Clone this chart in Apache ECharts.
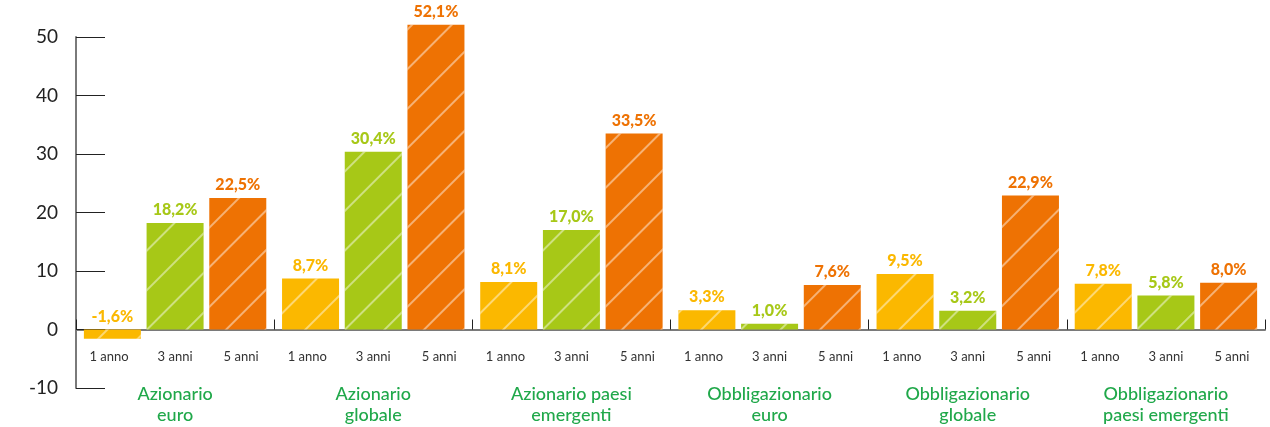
<!DOCTYPE html>
<html>
<head>
<meta charset="utf-8">
<script src="https://cdn.jsdelivr.net/npm/echarts@6/dist/echarts.min.js"></script>
<style>
  html, body { margin: 0; padding: 0; background: #fff; }
  #chart { width: 1270px; height: 427px; }
</style>
</head>
<body>
<div id="chart"></div>
<script>
// Rendimenti cumulati per categoria di fondo (%)
const groups = [
  'Azionario\neuro',
  'Azionario\nglobale',
  'Azionario paesi\nemergenti',
  'Obbligazionario\neuro',
  'Obbligazionario\nglobale',
  'Obbligazionario\npaesi emergenti'
];
const periods = ['1 anno', '3 anni', '5 anni'];
const values1y = [-1.6, 8.7, 8.1, 3.3, 9.5, 7.8];
const values3y = [18.2, 30.4, 17.0, 1.0, 3.2, 5.8];
const values5y = [22.5, 52.1, 33.5, 7.6, 22.9, 8.0];
const colors = ['#FBB800', '#A7C817', '#EE7203'];
const yTicks = { min: -10, max: 50, interval: 10 };

const FONT = 'Lato';

const stripe = {
  symbol: 'rect',
  symbolSize: 1,
  dashArrayX: [1, 0],
  dashArrayY: [2, 26],
  rotation: -Math.PI / 4,
  color: 'rgba(255,255,255,0.45)'
};

function makeSeries(name, data, color) {
  return {
    name: name,
    type: 'bar',
    data: data,
    barWidth: 57,
    barGap: '10%',
    clip: false,
    itemStyle: { color: color, decal: stripe },
    label: {
      show: true,
      position: 'top',
      distance: 5,
      color: color,
      fontFamily: FONT,
      fontWeight: 900,
      fontSize: 16,
      formatter: p => p.value.toFixed(1).replace('.', ',') + '%'
    }
  };
}

// Category label: the three period names on one row, the group name below
function groupLabel(name) {
  const row = periods.map(p => '{p|' + p + '}').join('');
  const lines = name.split('\n').map(l => '{g|' + l + '}').join('\n');
  return row + '\n{s|}\n' + lines;
}

const chart = echarts.init(document.getElementById('chart'), null, { renderer: 'canvas' });
chart.setOption({
  animation: false,
  grid: { left: 76, right: 5, top: 37, bottom: 39, outerBoundsMode: 'none', containLabel: false },
  xAxis: {
    type: 'category',
    data: groups,
    axisLine: { onZero: true, lineStyle: { color: '#7a7a7a', width: 2 } },
    axisTick: { show: true, inside: true, length: 10, lineStyle: { color: '#222', width: 1 } },
    axisLabel: {
      interval: 0,
      hideOverlap: false,
      margin: -41,
      formatter: groupLabel,
      rich: {
        p: { width: 66, align: 'center', color: '#333', fontFamily: FONT, fontSize: 13, lineHeight: 20 },
        s: { lineHeight: 17, fontSize: 1 },
        g: { color: '#20A84A', fontFamily: FONT, fontSize: 18, fontWeight: 500, lineHeight: 21, align: 'center' }
      }
    }
  },
  yAxis: {
    type: 'value',
    min: yTicks.min,
    max: yTicks.max,
    interval: yTicks.interval,
    splitLine: { show: false },
    axisLine: { show: true, lineStyle: { color: '#7a7a7a', width: 2 } },
    axisTick: { show: true, inside: true, length: 29, lineStyle: { color: '#222', width: 1 } },
    axisLabel: {
      margin: 18,
      color: '#222',
      fontFamily: FONT,
      fontSize: 19
    }
  },
  series: [
    makeSeries(periods[0], values1y, colors[0]),
    makeSeries(periods[1], values3y, colors[1]),
    makeSeries(periods[2], values5y, colors[2])
  ]
});
</script>
</body>
</html>
